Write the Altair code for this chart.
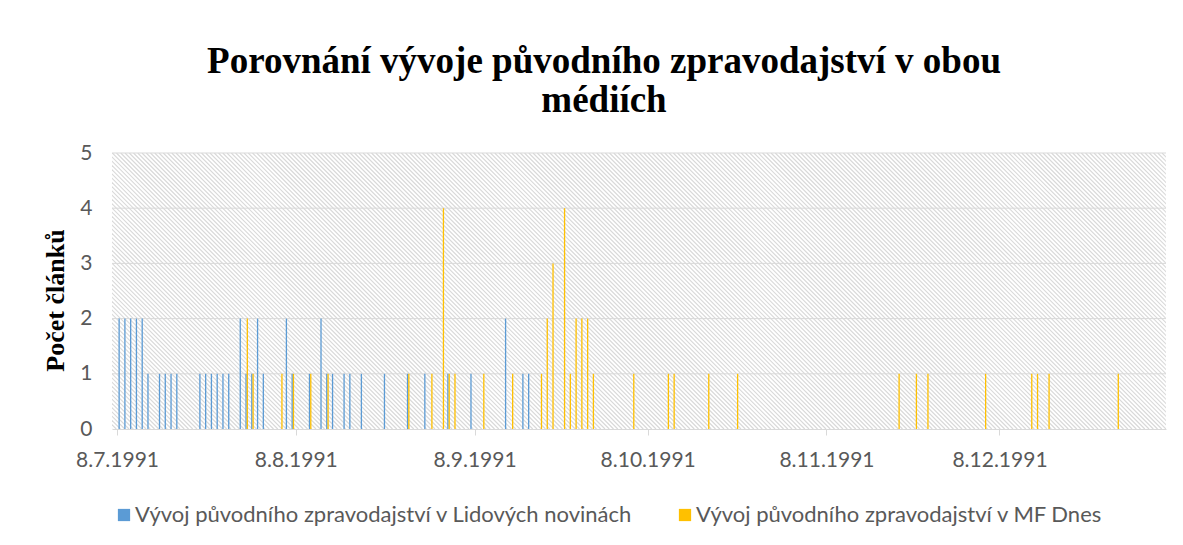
import altair as alt
import pandas as pd

# ---------------- data ----------------
title_lines = ["Porovnání vývoje původního zpravodajství v obou", "médiích"]
y_title = "Počet článků"
series_names = [
    "Vývoj původního zpravodajství v Lidových novinách",
    "Vývoj původního zpravodajství v MF Dnes",
]
series_colors = ["#5B9BD5", "#FFC000"]

ln_dates = [
    "1991-07-08", "1991-07-09", "1991-07-10", "1991-07-11", "1991-07-12",
    "1991-07-13", "1991-07-15", "1991-07-16", "1991-07-17", "1991-07-18",
    "1991-07-22", "1991-07-23", "1991-07-24", "1991-07-25", "1991-07-26",
    "1991-07-27", "1991-07-29", "1991-07-30", "1991-07-31", "1991-08-01",
    "1991-08-02", "1991-08-06", "1991-08-07", "1991-08-10", "1991-08-12",
    "1991-08-13", "1991-08-14", "1991-08-16", "1991-08-17", "1991-08-19",
    "1991-08-23", "1991-08-27", "1991-08-30", "1991-09-03", "1991-09-07",
    "1991-09-13", "1991-09-16", "1991-09-17",
]
ln_counts = [
    2, 2, 2, 2, 2,
    1, 1, 1, 1, 1,
    1, 1, 1, 1, 1,
    1, 2, 1, 1, 2,
    1, 2, 1, 1, 2,
    1, 1, 1, 1, 1,
    1, 1, 1, 1, 1,
    2, 1, 1,
]

mf_dates = [
    "1991-07-30", "1991-07-31", "1991-08-05", "1991-08-07", "1991-08-10",
    "1991-08-13", "1991-08-27", "1991-08-31", "1991-09-02", "1991-09-03",
    "1991-09-04", "1991-09-09", "1991-09-14", "1991-09-19", "1991-09-20",
    "1991-09-21", "1991-09-23", "1991-09-24", "1991-09-25", "1991-09-26",
    "1991-09-27", "1991-09-28", "1991-10-05", "1991-10-11", "1991-10-12",
    "1991-10-18", "1991-10-23", "1991-11-20", "1991-11-23", "1991-11-25",
    "1991-12-05", "1991-12-13", "1991-12-14", "1991-12-16", "1991-12-28",
]
mf_counts = [
    2, 1, 1, 1, 1,
    1, 1, 1, 4, 1,
    1, 1, 1, 1, 2,
    3, 4, 1, 2, 2,
    2, 1, 1, 1, 1,
    1, 1, 1, 1, 1,
    1, 1, 1, 1, 1,
]

tick_dates = ["1991-07-08", "1991-08-08", "1991-09-08", "1991-10-08", "1991-11-08", "1991-12-08"]
x_range = ["1991-07-08", "1992-01-05"]
y_ticks = [0, 1, 2, 3, 4, 5]

# ---------------- layout constants ----------------
W, H = 1054, 276
GRID = "#D9D9D9"
TXT = "#595959"


def dt(s):
    t = pd.Timestamp(s)
    return alt.DateTime(year=t.year, month=t.month, date=t.day, utc=True)


def centre(dates):
    ts = pd.to_datetime(pd.Series(dates)) + pd.Timedelta(hours=12)
    return ts.dt.strftime("%Y-%m-%dT%H:%M:%SZ")


df = pd.concat(
    [
        pd.DataFrame({"date": centre(ln_dates), "count": ln_counts, "series": series_names[0]}),
        pd.DataFrame({"date": centre(mf_dates), "count": mf_counts, "series": series_names[1]}),
    ],
    ignore_index=True,
)
grid_df = pd.DataFrame({"count": y_ticks[1:]})

# ---------------- hatched plot background ----------------
hatch = (
    alt.Chart(alt.sequence(start=-H, stop=W + 6, step=4.25, as_="k"))
    .transform_calculate(k2=f"datum.k + {H}", top=f"{H}", bottom="0")
    .mark_rule(stroke=GRID, strokeWidth=1.2, clip=True)
    .encode(
        x=alt.X("k:Q", scale=alt.Scale(domain=[0, W], nice=False, zero=False), axis=None),
        x2="k2:Q",
        y=alt.Y("top:Q", scale=alt.Scale(domain=[0, H], nice=False), axis=None),
        y2="bottom:Q",
    )
)

# ---------------- shared encodings ----------------
x_scale = alt.Scale(type="utc", domain=[dt(d) for d in x_range], nice=False)
y_scale = alt.Scale(domain=[0, 5], nice=False)

x_axis = alt.Axis(
    values=[dt(d) for d in tick_dates],
    format="%-d.%-m.%Y",
    labelFont="Lato",
    labelFontSize=21,
    labelColor=TXT,
    labelPadding=14,
    labelFlush=False,
    labelOverlap=False,
    domainColor=GRID,
    domainWidth=1,
    tickColor=GRID,
    tickSize=6,
    grid=False,
    title=None,
    zindex=1,
)
y_axis = alt.Axis(
    values=y_ticks,
    grid=False,
    domain=False,
    ticks=False,
    tickSize=0,
    labelPadding=20,
    labelFont="Lato",
    labelFontSize=21,
    labelColor=TXT,
    title=y_title,
    titleFont="Liberation Serif",
    titleFontSize=26,
    titleFontWeight="bold",
    titleColor="black",
    titleX=-57,
    titleY=147,
    titleBaseline="middle",
    zindex=1,
)

color = alt.Color(
    "series:N",
    scale=alt.Scale(domain=series_names, range=series_colors),
    legend=alt.Legend(
        orient="none",
        legendX=1,
        legendY=351,
        direction="horizontal",
        title=None,
        symbolType="square",
        symbolSize=150,
        symbolStrokeWidth=0,
        labelFont="Lato",
        labelFontSize=22,
        labelColor=TXT,
        labelLimit=0,
        labelOffset=0,
        columnPadding=41,
        padding=0,
    ),
)

X = alt.X("date:T", scale=x_scale, axis=x_axis, title=None)
Y = alt.Y("count:Q", scale=y_scale, axis=y_axis, title=y_title)

blue = (
    alt.Chart(df)
    .transform_filter(alt.datum.series == series_names[0])
    .mark_bar(width=1.3, xOffset=-0.75)
    .encode(x=X, y=Y, color=color)
)
yellow = (
    alt.Chart(df)
    .transform_filter(alt.datum.series == series_names[1])
    .mark_bar(width=1.3, xOffset=0.55)
    .encode(x=X, y=Y, color=color)
)
grid = (
    alt.Chart(grid_df)
    .mark_rule(stroke=GRID, strokeWidth=1)
    .encode(y=Y)
)

data_layer = alt.layer(grid, blue, yellow)

chart = (
    alt.layer(hatch, data_layer)
    .resolve_scale(x="independent", y="independent")
    .properties(
        width=W,
        height=H,
        padding={"left": 104, "top": 145, "right": 9, "bottom": 110},
        autosize=alt.AutoSizeParams(type="none"),
        title=alt.TitleParams(
            text=title_lines,
            font="Liberation Serif",
            fontSize=37,
            fontWeight="bold",
            color="black",
            anchor="middle",
            frame="group",
            dx=-35,
            offset=22,
            lineHeight=39,
        ),
        background="white",
    )
    .configure_view(stroke=None)
)

chart.save("out.html", embed_options={"renderer": "svg", "actions": False})
